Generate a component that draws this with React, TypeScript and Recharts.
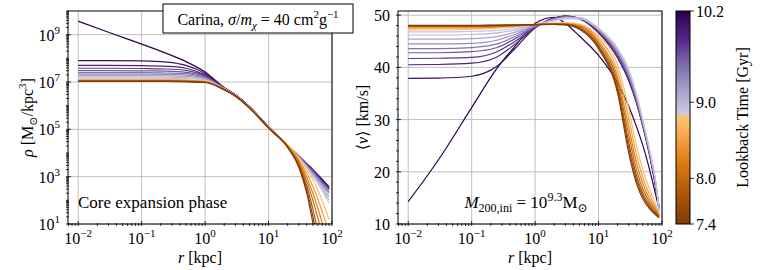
import React from 'react';
import { LineChart, Line, XAxis, YAxis, CartesianGrid } from 'recharts';

const radius = [0.01, 0.03, 0.1, 0.25, 0.5, 1, 2, 3, 5, 10, 20, 30, 40, 50, 65, 80, 90];

// lookback time (Gyr) of each snapshot, earliest first
const lookback = [10.2, 10.05, 9.9, 9.75, 9.6, 9.45, 9.3, 9.15, 9.0, 8.9, 8.75, 8.5, 8.25, 8.0, 7.75, 7.55, 7.4];

// log10 density [Msun/kpc^3], one row per snapshot
const logDensity = [
  [9.57, 9.1, 8.6, 8.2, 7.86, 7.42, 6.76, 6.46, 5.96, 5.1, 4.32, 3.88, 3.55, 3.3, 2.98, 2.72, 2.58],
  [7.9, 7.9, 7.89, 7.84, 7.7, 7.36, 6.76, 6.46, 5.96, 5.1, 4.32, 3.87, 3.53, 3.28, 2.95, 2.68, 2.54],
  [7.7, 7.7, 7.69, 7.66, 7.58, 7.3, 6.75, 6.45, 5.95, 5.1, 4.31, 3.86, 3.52, 3.26, 2.92, 2.65, 2.5],
  [7.58, 7.58, 7.57, 7.55, 7.49, 7.26, 6.74, 6.45, 5.95, 5.1, 4.31, 3.86, 3.51, 3.25, 2.9, 2.63, 2.48],
  [7.48, 7.48, 7.47, 7.46, 7.41, 7.22, 6.73, 6.44, 5.94, 5.09, 4.31, 3.85, 3.5, 3.23, 2.88, 2.6, 2.45],
  [7.4, 7.4, 7.4, 7.38, 7.35, 7.18, 6.72, 6.44, 5.94, 5.09, 4.3, 3.84, 3.47, 3.18, 2.82, 2.52, 2.36],
  [7.33, 7.33, 7.33, 7.32, 7.29, 7.15, 6.72, 6.43, 5.93, 5.09, 4.3, 3.83, 3.45, 3.15, 2.78, 2.46, 2.3],
  [7.27, 7.27, 7.27, 7.26, 7.24, 7.12, 6.71, 6.43, 5.93, 5.09, 4.3, 3.82, 3.42, 3.1, 2.7, 2.35, 2.16],
  [7.21, 7.21, 7.21, 7.2, 7.19, 7.09, 6.7, 6.42, 5.93, 5.08, 4.3, 3.8, 3.4, 3.06, 2.62, 2.22, 2.02],
  [7.16, 7.16, 7.16, 7.15, 7.14, 7.06, 6.7, 6.42, 5.92, 5.08, 4.3, 3.79, 3.38, 3.02, 2.56, 2.12, 1.9],
  [7.1, 7.1, 7.1, 7.1, 7.09, 7.03, 6.69, 6.42, 5.92, 5.08, 4.34, 3.8, 3.3, 2.88, 2.2, 1.58, 1.18],
  [7.08, 7.08, 7.08, 7.08, 7.07, 7.02, 6.69, 6.42, 5.92, 5.08, 4.32, 3.72, 3.14, 2.58, 1.78, 1.05, 0.68],
  [7.06, 7.06, 7.06, 7.06, 7.05, 7.01, 6.68, 6.41, 5.92, 5.07, 4.3, 3.65, 2.98, 2.3, 1.35, 0.5, 0.1],
  [7.05, 7.05, 7.05, 7.05, 7.04, 7.0, 6.68, 6.41, 5.91, 5.07, 4.28, 3.58, 2.8, 2.0, 0.9, 0.0, -0.5],
  [7.04, 7.04, 7.04, 7.04, 7.03, 6.99, 6.68, 6.41, 5.91, 5.06, 4.26, 3.5, 2.62, 1.62, 0.3, -0.7, -1.2],
  [7.03, 7.03, 7.03, 7.03, 7.02, 6.99, 6.67, 6.4, 5.91, 5.06, 4.25, 3.45, 2.45, 1.3, -0.1, -1.1, -1.6],
  [7.03, 7.03, 7.03, 7.03, 7.02, 6.98, 6.67, 6.4, 5.9, 5.05, 4.24, 3.4, 2.3, 1.05, -0.4, -1.5, -2.0],
];

// mean velocity dispersion [km/s], one row per snapshot
const dispersion = [
  [14.3, 22.3, 32.3, 39.8, 44.3, 48.4, 49.6, 48.4, 46.0, 42.3, 37.0, 32.5, 28.5, 25.0, 20.0, 15.5, 12.8],
  [37.9, 37.95, 38.3, 40.2, 43.8, 47.6, 49.5, 49.8, 49.3, 46.6, 41.8, 37.4, 33.0, 28.6, 22.6, 16.8, 13.2],
  [40.5, 40.55, 40.8, 42.0, 44.6, 47.6, 49.4, 49.8, 49.4, 46.8, 42.0, 37.6, 33.2, 28.8, 22.8, 17.0, 13.1],
  [41.7, 41.75, 41.9, 43.0, 45.1, 47.7, 49.4, 49.8, 49.4, 46.9, 42.2, 37.8, 33.3, 28.9, 22.9, 17.1, 13.0],
  [42.8, 42.8, 43.0, 43.8, 45.6, 47.8, 49.3, 49.7, 49.4, 47.0, 42.4, 38.0, 33.5, 29.0, 23.0, 17.2, 12.9],
  [43.6, 43.6, 43.8, 44.5, 46.0, 47.9, 49.3, 49.7, 49.5, 47.1, 42.7, 38.4, 33.8, 29.2, 23.2, 17.4, 12.8],
  [44.5, 44.5, 44.6, 45.2, 46.4, 48.0, 49.2, 49.6, 49.5, 47.2, 43.0, 38.7, 34.0, 29.4, 23.4, 17.6, 12.7],
  [45.4, 45.4, 45.5, 45.9, 46.8, 48.1, 49.1, 49.6, 49.5, 47.4, 43.4, 39.2, 34.4, 29.6, 23.6, 17.8, 12.6],
  [46.2, 46.2, 46.3, 46.6, 47.2, 48.2, 49.0, 49.5, 49.5, 47.5, 43.6, 39.5, 34.6, 29.8, 23.7, 17.9, 12.5],
  [46.8, 46.8, 46.9, 47.1, 47.5, 48.2, 48.9, 49.3, 49.3, 47.4, 43.5, 39.4, 34.5, 29.7, 23.6, 17.8, 12.5],
  [47.2, 47.2, 47.3, 47.5, 47.8, 48.2, 48.5, 48.6, 48.3, 46.0, 40.4, 32.0, 24.8, 20.3, 16.4, 13.6, 11.9],
  [47.5, 47.5, 47.5, 47.7, 47.9, 48.2, 48.4, 48.4, 48.1, 45.5, 39.2, 30.2, 23.0, 18.9, 15.4, 13.1, 11.7],
  [47.7, 47.7, 47.7, 47.8, 48.0, 48.2, 48.3, 48.35, 48.0, 45.0, 38.1, 28.5, 21.5, 17.7, 14.6, 12.7, 11.6],
  [47.85, 47.85, 47.85, 47.9, 48.0, 48.2, 48.3, 48.3, 47.8, 44.6, 37.2, 27.0, 20.2, 16.7, 14.0, 12.4, 11.5],
  [47.95, 47.95, 47.95, 48.0, 48.1, 48.2, 48.3, 48.25, 47.6, 44.2, 36.3, 25.6, 19.1, 15.9, 13.5, 12.1, 11.4],
  [48.0, 48.0, 48.0, 48.05, 48.1, 48.2, 48.25, 48.2, 47.5, 43.9, 35.6, 24.5, 18.3, 15.3, 13.1, 11.9, 11.3],
  [48.05, 48.05, 48.05, 48.1, 48.15, 48.2, 48.25, 48.15, 47.3, 43.6, 35.0, 23.5, 17.6, 14.8, 12.8, 11.7, 11.2],
];

const xMajor = [0.01, 0.1, 1, 10, 100];
const rhoLabelled = [1e1, 1e3, 1e5, 1e7, 1e9];
const velMajor = [10, 20, 30, 40, 50];
const cbarTicks = [10.2, 9.0, 8.0, 7.4];

// truncated PuOr colormap (white middle removed)
const orangeStops: [number, string][] = [[7.4, '#7f3b08'], [7.83, '#b35806'], [8.26, '#e08214'], [8.69, '#fdb863'], [8.83, '#fdc57c']];
const purpleStops: [number, string][] = [[8.83, '#cdcce4'], [9.09, '#b2abd2'], [9.46, '#8073ac'], [9.83, '#542788'], [10.2, '#2d004b']];
const T_MIN = 7.4;
const T_MAX = 10.2;

const FONT = 'Liberation Serif, DejaVu Serif, serif';

function hexToRgb(h: string) {
  return [1, 3, 5].map((i) => parseInt(h.slice(i, i + 2), 16));
}

function colorAt(t: number) {
  const stops = t < 8.83 ? orangeStops : purpleStops;
  for (let i = 0; i < stops.length - 1; i++) {
    const [t0, c0] = stops[i];
    const [t1, c1] = stops[i + 1];
    if (t >= t0 && t <= t1) {
      const f = (t - t0) / (t1 - t0);
      const a = hexToRgb(c0);
      const b = hexToRgb(c1);
      const c = a.map((v, k) => Math.round(v + (b[k] - v) * f));
      return `rgb(${c[0]},${c[1]},${c[2]})`;
    }
  }
  return t < 8.83 ? stops[0][1] : stops[stops.length - 1][1];
}

// minor tick positions for the log axes
const xTicks: number[] = [0.007, 0.008, 0.009];
for (let e = -2; e < 2; e++) {
  for (let k = 1; k < 10; k++) xTicks.push(k * Math.pow(10, e));
}
xTicks.push(100);

const rhoTicks: number[] = [];
for (let e = 1; e < 10; e++) {
  for (let k = 1; k < 10; k++) rhoTicks.push(k * Math.pow(10, e));
}
rhoTicks.push(1e10);

const velTicks: number[] = [];
for (let v = 10; v <= 50; v += 2) velTicks.push(v);

const densityData = radius.map((r, i) => {
  const row: any = { r };
  logDensity.forEach((c, k) => {
    row['c' + k] = Math.pow(10, c[i]);
  });
  return row;
});

const dispersionData = radius.map((r, i) => {
  const row: any = { r };
  dispersion.forEach((c, k) => {
    row['c' + k] = c[i];
  });
  return row;
});

const isIn = (list: number[], v: number) => list.some((m) => Math.abs(m - v) / m < 1e-6);
const expText = (v: number) => {
  const e = Math.round(Math.log10(v));
  return e < 0 ? '\u2212' + Math.abs(e) : String(e);
};

const LogXTick = (props: any) => {
  const { x, y, payload } = props;
  const v = payload.value;
  const major = isIn(xMajor, v);
  return (
    <g>
      <line x1={x} x2={x} y1={y} y2={y - (major ? 5 : 2.8)} stroke="#000" strokeWidth={0.8} />
      {major && (
        <text x={x} y={y + 18} textAnchor="middle" style={{ fontFamily: FONT }} fontSize={16} fill="#000">
          10<tspan dy={-7} fontSize={11}>{expText(v)}</tspan>
        </text>
      )}
    </g>
  );
};

const LogYTick = (props: any) => {
  const { x, y, payload } = props;
  const v = payload.value;
  const major = isIn(rhoLabelled, v);
  return (
    <g>
      <line x1={x} x2={x + (major ? 5 : 2.8)} y1={y} y2={y} stroke="#000" strokeWidth={0.8} />
      {major && (
        <text x={x - 6} y={y + 6} textAnchor="end" style={{ fontFamily: FONT }} fontSize={16} fill="#000">
          10<tspan dy={-7} fontSize={11}>{expText(v)}</tspan>
        </text>
      )}
    </g>
  );
};

const LinYTick = (props: any) => {
  const { x, y, payload } = props;
  const v = payload.value;
  const major = velMajor.includes(v);
  return (
    <g>
      <line x1={x} x2={x + (major ? 5 : 2.8)} y1={y} y2={y} stroke="#000" strokeWidth={0.8} />
      {major && (
        <text x={x - 6} y={y + 6} textAnchor="end" style={{ fontFamily: FONT }} fontSize={16} fill="#000">
          {v}
        </text>
      )}
    </g>
  );
};

const W = 760;
const H = 270;
const PLOT_TOP = 11;
const PLOT_H = 213;
const LEFT_X = 68;
const RIGHT_X = 398;
const PLOT_W = 264;
const RIGHT_PAD = 20;
const CB_X = 676;
const CB_W = 14;

const cbY = (t: number) => PLOT_TOP + PLOT_H - ((t - T_MIN) / (T_MAX - T_MIN)) * PLOT_H;

const curves = lookback.map((t, k) => (
  <Line
    key={k}
    dataKey={'c' + k}
    type="monotone"
    stroke={colorAt(t)}
    strokeWidth={1.2}
    dot={false}
    isAnimationActive={false}
  />
));

const txt = { fontFamily: FONT };

export default function App() {
  const cbStops = [...orangeStops, ...purpleStops];
  return (
    <div style={{ position: 'absolute', left: 0, top: 0, width: W, height: H, background: '#fff', fontFamily: FONT }}>
      <div style={{ position: 'absolute', left: 0, top: 0 }}>
        <LineChart
          width={LEFT_X + PLOT_W + RIGHT_PAD}
          height={H}
          data={densityData}
          margin={{ top: PLOT_TOP, right: RIGHT_PAD, bottom: 0, left: 0 }}
        >
          <CartesianGrid stroke="#b0b0b0" strokeWidth={0.8} verticalValues={xMajor} horizontalValues={rhoLabelled} />
          <XAxis
            dataKey="r"
            type="number"
            scale="log"
            domain={[0.0069, 100]}
            allowDataOverflow
            ticks={xTicks}
            interval={0}
            height={H - PLOT_TOP - PLOT_H}
            tickSize={0}
            tickLine={false}
            axisLine={false}
            tick={<LogXTick />}
          />
          <YAxis
            type="number"
            scale="log"
            domain={[10, 1e10]}
            allowDataOverflow
            ticks={rhoTicks}
            interval={0}
            width={LEFT_X}
            tickSize={0}
            tickLine={false}
            axisLine={false}
            tick={<LogYTick />}
          />
          {curves}
        </LineChart>
      </div>
      <div style={{ position: 'absolute', left: RIGHT_X - 58, top: 0 }}>
        <LineChart
          width={58 + PLOT_W + RIGHT_PAD}
          height={H}
          data={dispersionData}
          margin={{ top: PLOT_TOP, right: RIGHT_PAD, bottom: 0, left: 0 }}
        >
          <CartesianGrid stroke="#b0b0b0" strokeWidth={0.8} verticalValues={xMajor} horizontalValues={velMajor} />
          <XAxis
            dataKey="r"
            type="number"
            scale="log"
            domain={[0.0069, 100]}
            allowDataOverflow
            ticks={xTicks}
            interval={0}
            height={H - PLOT_TOP - PLOT_H}
            tickSize={0}
            tickLine={false}
            axisLine={false}
            tick={<LogXTick />}
          />
          <YAxis
            type="number"
            domain={[10, 50.8]}
            allowDataOverflow
            ticks={velTicks}
            interval={0}
            width={58}
            tickSize={0}
            tickLine={false}
            axisLine={false}
            tick={<LinYTick />}
          />
          {curves}
        </LineChart>
      </div>
      <svg width={W} height={H} style={{ position: 'absolute', left: 0, top: 0, pointerEvents: 'none', fontFamily: FONT }}>
        <defs>
          <linearGradient id="cbar" x1="0" y1="1" x2="0" y2="0">
            {cbStops.map(([t, c], i) => (
              <stop key={i} offset={(t - T_MIN) / (T_MAX - T_MIN)} stopColor={c} />
            ))}
          </linearGradient>
        </defs>
        <rect x={LEFT_X} y={PLOT_TOP} width={PLOT_W} height={PLOT_H} fill="none" stroke="#000" strokeWidth={1} />
        <rect x={RIGHT_X} y={PLOT_TOP} width={PLOT_W} height={PLOT_H} fill="none" stroke="#000" strokeWidth={1} />

        {/* legend box */}
        <rect x={163} y={4} width={190} height={29} fill="#fff" stroke="#000" strokeWidth={1} />
        <text x={258} y={25} textAnchor="middle" fontSize={16} fill="#000" style={txt}>
          Carina, <tspan fontStyle="italic">σ</tspan>/<tspan fontStyle="italic">m</tspan>
          <tspan dy={4} fontSize={11} fontStyle="italic">χ</tspan>
          <tspan dy={-4}> = 40 cm</tspan>
          <tspan dy={-7} fontSize={11}>2</tspan>
          <tspan dy={7}>g</tspan>
          <tspan dy={-7} fontSize={11}>{'\u22121'}</tspan>
        </text>

        <text x={78} y={208} fontSize={17} fill="#000" style={txt}>Core expansion phase</text>
        <text x={526} y={208} textAnchor="middle" fontSize={17} fill="#000" style={txt}>
          <tspan fontStyle="italic">M</tspan>
          <tspan dy={4} fontSize={12}>200,ini</tspan>
          <tspan dy={-4}> = 10</tspan>
          <tspan dy={-7} fontSize={12}>9.3</tspan>
          <tspan dy={7}>M</tspan>
          <tspan dy={4} fontSize={12}>⊙</tspan>
        </text>

        {/* axis labels */}
        <text x={LEFT_X + PLOT_W / 2} y={263} textAnchor="middle" fontSize={16} fill="#000" style={txt}>
          <tspan fontStyle="italic">r</tspan> [kpc]
        </text>
        <text x={RIGHT_X + PLOT_W / 2} y={263} textAnchor="middle" fontSize={16} fill="#000" style={txt}>
          <tspan fontStyle="italic">r</tspan> [kpc]
        </text>
        <text transform={`translate(33,${PLOT_TOP + PLOT_H / 2}) rotate(-90)`} textAnchor="middle" fontSize={16} fill="#000" style={txt}>
          <tspan fontStyle="italic">ρ</tspan> [M<tspan dy={4} fontSize={11}>⊙</tspan>
          <tspan dy={-4}>/kpc</tspan>
          <tspan dy={-7} fontSize={11}>3</tspan>
          <tspan dy={7}>]</tspan>
        </text>
        <text transform={`translate(368,${PLOT_TOP + PLOT_H / 2}) rotate(-90)`} textAnchor="middle" fontSize={16} fill="#000" style={txt}>
          ⟨<tspan fontStyle="italic">v</tspan>⟩ [km/s]
        </text>

        {/* colorbar */}
        <rect x={CB_X} y={PLOT_TOP} width={CB_W} height={PLOT_H} fill="url(#cbar)" stroke="#000" strokeWidth={1} />
        {cbarTicks.map((t) => (
          <g key={t}>
            <line x1={CB_X + CB_W} x2={CB_X + CB_W + 4} y1={cbY(t)} y2={cbY(t)} stroke="#000" strokeWidth={0.8} />
            <text x={CB_X + CB_W + 6} y={cbY(t) + 6} fontSize={16} fill="#000" style={txt}>
              {t.toFixed(1)}
            </text>
          </g>
        ))}
        <text transform={`translate(748,${PLOT_TOP + PLOT_H / 2}) rotate(-90)`} textAnchor="middle" fontSize={16} fill="#000" style={txt}>
          Lookback Time [Gyr]
        </text>
      </svg>
    </div>
  );
}
